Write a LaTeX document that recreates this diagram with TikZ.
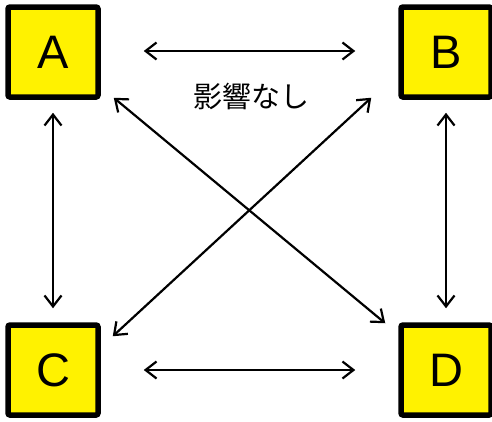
\documentclass[tikz,border=0pt]{standalone}
\usepackage{fontspec}
\setmainfont{Liberation Sans}
\newfontfamily\jpfont{Noto Sans CJK JP}
\usetikzlibrary{arrows.meta,calc}
\begin{document}
\begin{tikzpicture}[x=1pt,y=-1pt,
  box/.style={draw=black,fill=yellow,line width=5.5pt,rounded corners=2pt,
    minimum size=90pt,inner sep=0pt,font=\fontsize{47}{47}\selectfont},
  arr/.style={line width=2.2pt,{Straight Barb[length=11pt,width=17pt]}-{Straight Barb[length=11pt,width=17pt]}}]
\useasboundingbox (0,0) rectangle (492,421);
\node[box] (A) at (53,52) {A};
\node[box] (B) at (446,52) {B};
\node[box] (C) at (53,370) {C};
\node[box] (D) at (446,370) {D};
\node[font=\jpfont\fontsize{29}{29}\selectfont] (T) at (251,96) {影響なし};
\draw[arr] ($(A.east)+(43,-1)$) -- ($(B.west)+(-43,-1)$);
\draw[arr] ($(C.east)+(43,0)$) -- ($(D.west)+(-43,0)$);
\draw[arr] ($(A.south)+(0,13)$) -- ($(C.north)+(0,-14)$);
\draw[arr] ($(B.south)+(0,13)$) -- ($(D.north)+(0,-14)$);
\draw[arr] ($(A.south east)+(13,-2)$) -- ($(D.north west)+(-13,1)$);
\draw[arr] ($(C.north east)+(12,14)$) -- ($(B.south west)+(-27,-2)$);
\end{tikzpicture}
\end{document}
